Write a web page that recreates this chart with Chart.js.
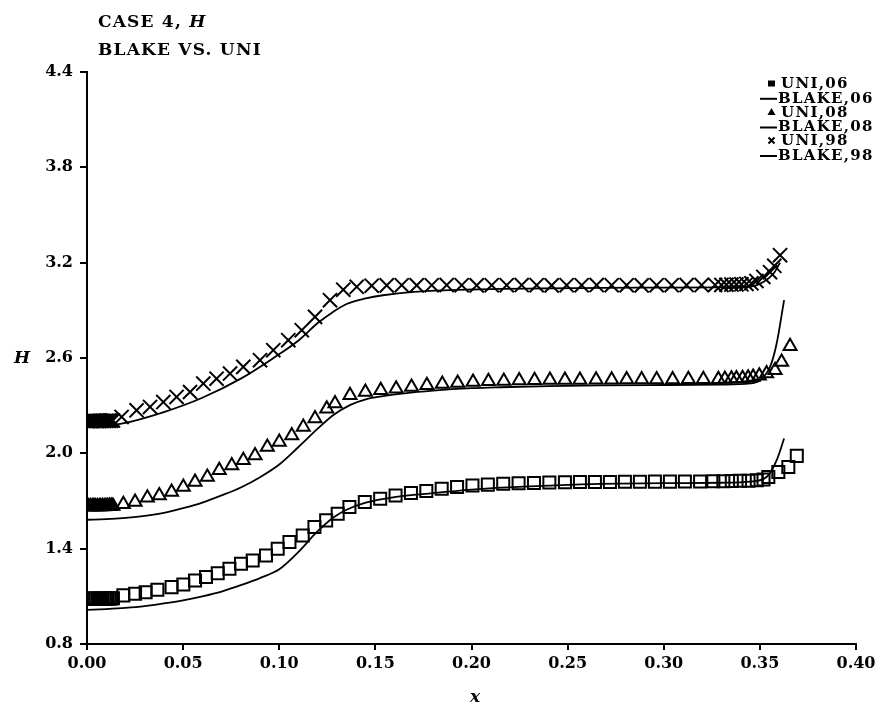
<!DOCTYPE html>
<html>
<head>
<meta charset="utf-8">
<script src="https://cdn.jsdelivr.net/npm/chart.js@4.4.0/dist/chart.umd.min.js"></script>
<style>
html,body{margin:0;padding:0;background:#fff;}
canvas{display:block;}
</style>
</head>
<body>
<canvas id="c" width="881" height="717"></canvas>
<script>
// ---- data ----
const xTickValues = [0, 0.05, 0.10, 0.15, 0.20, 0.25, 0.30, 0.35, 0.40];
const xTickLabels = ['0.00','0.05','0.10','0.15','0.20','0.25','0.30','0.35','0.40'];
const yTickValues = [0.8, 1.4, 2.0, 2.6, 3.2, 3.8, 4.4];
const yTickLabels = ['0.8','1.4','2.0','2.6','3.2','3.8','4.4'];

const seriesLabels = ['UNI,06','BLAKE,06','UNI,08','BLAKE,08','UNI,98','BLAKE,98'];

const uni06X = [0,0.0009,0.0018,0.0027,0.0036,0.0045,0.0054,0.0063,0.0072,0.0081,0.009,0.0099,0.0108,0.0117,0.0126,0.0135,
  0.0189,0.025,0.0305,0.0366,0.044,0.0501,0.0562,0.0619,0.068,0.0741,0.0801,0.0862,0.0931,0.0992,0.1053,0.1122,0.1183,0.1244,0.1304,0.1365,
  0.1445,0.1525,0.1605,0.1685,0.1765,0.1845,0.1925,0.2005,0.2085,0.2165,0.2245,0.2325,0.2405,
  0.2486,0.2564,0.2642,0.272,0.2798,0.2876,0.2954,0.3032,0.311,0.3189,0.3258,
  0.331,0.3354,0.3397,0.3441,0.3484,0.3519,0.3544,0.3596,0.3648,0.3692];
const uni06H = [1.085,1.085,1.084,1.085,1.086,1.085,1.085,1.084,1.085,1.086,1.085,1.086,1.086,1.087,1.087,1.088,
  1.106,1.116,1.126,1.141,1.158,1.175,1.2,1.221,1.246,1.274,1.305,1.326,1.357,1.40,1.442,1.483,1.536,1.578,1.62,1.662,
  1.693,1.714,1.735,1.75,1.763,1.777,1.788,1.797,1.803,1.808,1.811,1.814,1.816,
  1.818,1.819,1.82,1.82,1.821,1.821,1.822,1.822,1.823,1.823,1.824,
  1.825,1.826,1.827,1.828,1.83,1.835,1.851,1.883,1.914,1.984];

const blake06X = [0,0.01,0.02,0.03,0.04,0.05,0.06,0.07,0.08,0.09,0.10,0.11,0.12,0.128,0.135,0.145,0.16,0.18,0.20,0.215,0.24,0.267,0.30,0.33,0.345,0.3535,0.3587,0.3626];
const blake06H = [1.015,1.02,1.027,1.038,1.055,1.075,1.10,1.13,1.17,1.215,1.27,1.38,1.51,1.595,1.645,1.69,1.725,1.75,1.772,1.784,1.797,1.808,1.812,1.815,1.822,1.851,1.956,2.093];

const uni08X = [0,0.0009,0.0018,0.0027,0.0036,0.0045,0.0054,0.0063,0.0072,0.0081,0.009,0.0099,0.0108,0.0117,0.0126,0.0135,
  0.0189,0.025,0.0314,0.0376,0.044,0.0501,0.0562,0.0626,0.0688,0.0753,0.0813,0.0874,0.0938,0.1,0.1065,0.1125,0.1186,0.1247,0.129,0.1368,
  0.1448,0.1528,0.1608,0.1688,0.1768,0.1848,0.1928,0.2008,0.2088,0.2168,0.2248,0.2328,0.2408,
  0.2486,0.2564,0.2648,0.2729,0.2807,0.2885,0.2963,0.3046,0.3128,0.3206,0.3284,
  0.3318,0.3352,0.3378,0.341,0.3439,0.3465,0.3497,0.3535,0.3579,0.3613,0.3657];
const uni08H = [1.666,1.666,1.665,1.666,1.667,1.666,1.666,1.665,1.666,1.667,1.666,1.667,1.667,1.668,1.668,1.669,
  1.679,1.693,1.721,1.735,1.756,1.788,1.819,1.851,1.893,1.924,1.956,1.987,2.04,2.071,2.113,2.166,2.22,2.281,2.313,2.365,
  2.386,2.397,2.407,2.418,2.428,2.437,2.443,2.449,2.453,2.456,2.458,2.46,2.461,
  2.462,2.462,2.463,2.463,2.464,2.464,2.465,2.465,2.466,2.466,2.467,
  2.468,2.47,2.471,2.473,2.476,2.48,2.488,2.502,2.523,2.575,2.674];

const blake08X = [0,0.01,0.02,0.03,0.04,0.05,0.06,0.07,0.08,0.09,0.10,0.11,0.12,0.128,0.137,0.145,0.154,0.165,0.18,0.2,0.215,0.24,0.267,0.30,0.33,0.345,0.35,0.3553,0.3587,0.3626];
const blake08H = [1.582,1.586,1.594,1.606,1.625,1.655,1.69,1.735,1.785,1.85,1.93,2.04,2.155,2.24,2.305,2.34,2.36,2.378,2.395,2.41,2.416,2.423,2.428,2.43,2.432,2.44,2.46,2.544,2.69,2.964];

const uni98X = [0,0.0009,0.0018,0.0027,0.0036,0.0045,0.0054,0.0063,0.0072,0.0081,0.009,0.0099,0.0108,0.0117,0.0126,0.0135,
  0.018,0.0258,0.0328,0.0397,0.0466,0.0536,0.0605,0.0674,0.0744,0.0813,0.09,0.0969,0.1047,0.1117,0.1186,0.1264,0.1333,
  0.1403,0.1481,0.1559,0.1637,0.1715,0.1793,0.1871,0.1949,0.2027,0.2105,0.2183,0.2261,0.2339,0.2417,0.2495,0.2573,0.2651,0.2729,0.2807,0.2885,0.2963,0.3041,0.3119,0.3197,0.3267,
  0.33,0.3326,0.3352,0.3378,0.3404,0.343,0.3456,0.3482,0.3518,0.3553,0.3575,0.3605];
const uni98H = [2.204,2.204,2.203,2.204,2.205,2.204,2.204,2.203,2.204,2.205,2.204,2.205,2.205,2.206,2.206,2.207,
  2.229,2.271,2.292,2.323,2.355,2.386,2.439,2.47,2.502,2.544,2.586,2.649,2.712,2.775,2.859,2.964,3.03,
  3.048,3.055,3.057,3.058,3.057,3.058,3.059,3.058,3.057,3.058,3.058,3.059,3.058,3.057,3.058,3.058,3.059,3.058,3.058,3.057,3.058,3.058,3.059,3.059,3.06,
  3.06,3.061,3.062,3.063,3.064,3.066,3.07,3.085,3.11,3.14,3.18,3.247];

const blake98X = [0,0.018,0.04,0.06,0.08,0.097,0.11,0.12,0.128,0.135,0.145,0.154,0.17,0.2,0.267,0.30,0.33,0.345,0.352,0.357,0.3605];
const blake98H = [2.166,2.187,2.26,2.35,2.47,2.6,2.71,2.82,2.89,2.94,2.975,2.995,3.016,3.031,3.041,3.043,3.045,3.05,3.08,3.13,3.2];

// ---- build datasets ----
const pts = (xs, hs) => xs.map((x, i) => ({x: x, y: hs[i]}));

function markerSet(label, xs, hs, style, r) {
  return {
    label: label, data: pts(xs, hs), showLine: false,
    pointStyle: style, pointRadius: r, pointHoverRadius: r,
    borderColor: '#000', backgroundColor: 'rgba(0,0,0,0)', pointBorderWidth: 2, borderWidth: 2
  };
}
function lineSet(label, xs, hs) {
  return {
    label: label, data: pts(xs, hs), showLine: true,
    pointRadius: 0, borderColor: '#000', borderWidth: 1.8,
    cubicInterpolationMode: 'monotone', fill: false
  };
}

const datasets = [
  markerSet(seriesLabels[0], uni06X, uni06H, 'rect', 8.5),
  lineSet(seriesLabels[1], blake06X, blake06H),
  markerSet(seriesLabels[2], uni08X, uni08H, 'triangle', 7.5),
  lineSet(seriesLabels[3], blake08X, blake08H),
  markerSet(seriesLabels[4], uni98X, uni98H, 'crossRot', 10),
  lineSet(seriesLabels[5], blake98X, blake98H)
];

const SERIF = '"DejaVu Serif", "Liberation Serif", serif';

function setSpacing(ctx, v) { if ('letterSpacing' in ctx) ctx.letterSpacing = v; }

const textPlugin = {
  id: 'texts',
  afterDraw(chart) {
    const ctx = chart.ctx;
    ctx.save();
    ctx.fillStyle = '#000';
    ctx.strokeStyle = '#000';
    ctx.textAlign = 'left';
    ctx.textBaseline = 'alphabetic';

    // Title
    setSpacing(ctx, '1.2px');
    ctx.font = 'bold 17px ' + SERIF;
    const t1 = 'CASE 4, ';
    ctx.fillText(t1, 98, 27);
    const w1 = ctx.measureText(t1).width;
    ctx.font = 'italic bold 17px ' + SERIF;
    ctx.fillText('H', 98 + w1, 27);
    ctx.font = 'bold 17px ' + SERIF;
    ctx.fillText('BLAKE VS. UNI', 98, 55);

    // Axis titles
    setSpacing(ctx, '0px');
    ctx.font = 'italic bold 17px ' + SERIF;
    ctx.textAlign = 'center';
    ctx.fillText('H', 22, 363);
    ctx.fillText('x', 475, 702);

    // Legend
    const rows = [83.5, 97.8, 112, 126.5, 140.5, 155];
    ctx.textAlign = 'left';
    ctx.textBaseline = 'middle';
    ctx.font = 'bold 15px ' + SERIF;
    setSpacing(ctx, '1.3px');
    chart.data.datasets.forEach((ds, i) => {
      const y = rows[i];
      ctx.lineWidth = 2;
      if (ds.showLine) {
        ctx.beginPath(); ctx.moveTo(760, y + 1); ctx.lineTo(777, y + 1); ctx.stroke();
        ctx.fillText(ds.label, 778, y + 1);
      } else {
        const mx = 771.5;
        if (ds.pointStyle === 'rect') {
          ctx.fillRect(mx - 3.5, y - 3, 7, 6);
        } else if (ds.pointStyle === 'triangle') {
          ctx.beginPath(); ctx.moveTo(mx, y - 4); ctx.lineTo(mx + 4, y + 3); ctx.lineTo(mx - 4, y + 3); ctx.closePath(); ctx.fill();
        } else {
          ctx.beginPath();
          ctx.moveTo(mx - 3, y - 3); ctx.lineTo(mx + 3, y + 3);
          ctx.moveTo(mx + 3, y - 3); ctx.lineTo(mx - 3, y + 3);
          ctx.stroke();
        }
        ctx.fillText(ds.label, 781, y + 1);
      }
    });
    ctx.restore();
  }
};

new Chart(document.getElementById('c'), {
  type: 'scatter',
  data: { datasets: datasets },
  options: {
    responsive: false,
    animation: false,
    layout: { padding: { left: 0, right: 25, top: 72, bottom: 0 } },
    plugins: { legend: { display: false }, title: { display: false }, tooltip: { enabled: false } },
    scales: {
      x: {
        type: 'linear', min: 0, max: 0.4,
        afterFit: s => { s.height = 73; },
        afterBuildTicks: s => { s.ticks = xTickValues.map(v => ({ value: v })); },
        grid: { display: true, drawOnChartArea: false, drawTicks: true, tickLength: 6, color: '#000', lineWidth: 2 },
        border: { display: true, color: '#000', width: 2 },
        ticks: {
          padding: 4, color: '#000', maxRotation: 0, autoSkip: false,
          font: { family: SERIF, size: 16, weight: 'bold' },
          callback: (v, i) => xTickLabels[i]
        }
      },
      y: {
        type: 'linear', min: 0.8, max: 4.4,
        afterFit: s => { s.width = 87; },
        afterBuildTicks: s => { s.ticks = yTickValues.map(v => ({ value: v })); },
        grid: { display: true, drawOnChartArea: false, drawTicks: true, tickLength: 7, color: '#000', lineWidth: 2 },
        border: { display: true, color: '#000', width: 2 },
        ticks: {
          padding: 7, color: '#000', autoSkip: false,
          font: { family: SERIF, size: 16, weight: 'bold' },
          callback: (v, i) => yTickLabels[i]
        }
      }
    }
  },
  plugins: [textPlugin]
});
</script>
</body>
</html>
